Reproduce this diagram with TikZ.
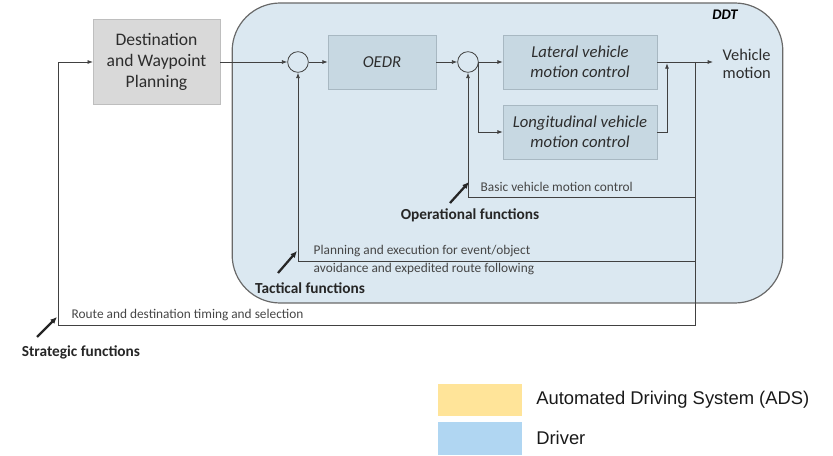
\documentclass[tikz,border=0pt]{standalone}
\usepackage{fontspec}
\setmainfont{Carlito}
\newfontfamily\keyfont{Liberation Sans}
\usetikzlibrary{arrows.meta,positioning,calc}
\definecolor{ddtfill}{RGB}{219,232,241}
\definecolor{ddtline}{RGB}{105,105,105}
\definecolor{planfill}{RGB}{217,217,217}
\definecolor{planline}{RGB}{190,190,190}
\definecolor{ctrlfill}{RGB}{199,216,226}
\definecolor{ctrlline}{RGB}{168,184,194}
\definecolor{wirecol}{RGB}{65,65,65}
\definecolor{textcol}{RGB}{45,45,45}
\definecolor{notecol}{RGB}{70,70,70}
\definecolor{adsyellow}{RGB}{255,228,153}
\definecolor{driverblue}{RGB}{176,214,242}

\begin{document}
\begin{tikzpicture}[x=0.75pt,y=-0.75pt,
  wire/.style={draw=wirecol, line width=0.6pt},
  sig/.style={wire, -{Latex[length=4pt,width=3pt]}},
  block/.style={draw=ctrlline, fill=ctrlfill, minimum width=115.5pt, minimum height=40.5pt, inner sep=1pt, align=center, text=textcol, font=\fontsize{12.5}{15}\selectfont\itshape},
  summer/.style={circle, draw=wirecol, line width=0.6pt, fill=ddtfill, minimum size=15.5pt, inner sep=0pt},
  note/.style={anchor=west, align=left, text=notecol, font=\fontsize{10}{13.5}\selectfont},
  fn/.style={text=black!85, font=\fontsize{11.5}{13}\selectfont\bfseries},
  pointer/.style={-{Latex[length=5pt,width=4.5pt]}, line width=1.7pt, draw=black!85},
  keybox/.style={minimum width=63pt, minimum height=24.5pt, inner sep=0pt},
  keytext/.style={font=\keyfont\fontsize{13.8}{15}\selectfont, text=black!90}]
\useasboundingbox (0,0) rectangle (833,456);

\node[draw=ddtline, line width=0.9pt, fill=ddtfill, rounded corners=36pt, minimum width=413pt, minimum height=225pt] (ddt) at (507.5,153) {};
\node[font=\fontsize{11}{13}\selectfont\bfseries\itshape] (ddtlabel) at (725,15) {DDT};

\node[draw=planline, fill=planfill, minimum width=95pt, minimum height=64pt, align=center, text=textcol, font=\fontsize{13.2}{15.75}\selectfont] (plan) at (156.5,62) {Destination\\and Waypoint\\Planning};
\node[summer] (sum1) at (298,62) {};
\node[block, minimum width=81pt] (oedr) at (382,62) {OEDR};
\node[summer] (sum2) at (468,62) {};
\node[block] (lat) at (580,62) {Lateral vehicle\\motion control};
\node[block] (lon) at (580,132) {Longitudinal vehicle\\motion control};
\node[anchor=west, align=left, text=textcol, font=\fontsize{12.3}{14}\selectfont] (motion) at (718,64) {Vehicle\\motion};

\coordinate (merge) at (667,62);
\coordinate (tap) at (695,62);
\coordinate (out) at (713,62);
\coordinate (opfb) at (695,197);
\coordinate (tacfb) at (695,261);
\coordinate (strfb) at (695,325);
\coordinate (strcorner) at (58,325);

\draw[sig] (plan) -- (sum1);
\draw[sig] (sum1) -- (oedr);
\draw[sig] (oedr) -- (sum2);
\draw[sig] (sum2) -- (lat);
\draw[sig] (sum2.east) |- (lon.west);
\draw[sig] (lon.east) -| ([yshift=-1pt]merge);
\draw[sig] (lat) -- (out);
\draw[sig] (tap) -- (opfb) -| (sum2.south);
\draw[sig] (opfb) -- (tacfb) -| (sum1.south);
\draw[sig] (tacfb) -- (strfb) -- (strcorner) |- (plan.west);

\node[note] (basic) at (476,187) {Basic vehicle motion control};
\node[note] (tacnote) at (309,260) {Planning and execution for event/object\\avoidance and expedited route following};
\node[note] (stratnote) at (67,315) {Route and destination timing and selection};

\node[fn] (opfn) at (470,215) {Operational functions};
\node[fn] (tacfn) at (310,288) {Tactical functions};
\node[fn] (strfn) at (81,352) {Strategic functions};

\coordinate (optail) at (450,203);
\coordinate (optip) at (469,182);
\coordinate (tactail) at (278,273);
\coordinate (tactip) at (297,251);
\coordinate (strtail) at (37,337);
\coordinate (strtip) at (57,317);
\draw[pointer] (optail) -- (optip);
\draw[pointer] (tactail) -- (tactip);
\draw[pointer] (strtail) -- (strtip);

\node[keybox, fill=adsyellow] (adskey) at (480,400) {};
\node[keybox, fill=driverblue, below=3.75pt of adskey] (drvkey) {};
\node[keytext, right=7pt of adskey] (adstext) {Automated Driving System (ADS)};
\node[keytext, right=7pt of drvkey] (drvtext) {Driver};
\end{tikzpicture}
\end{document}
